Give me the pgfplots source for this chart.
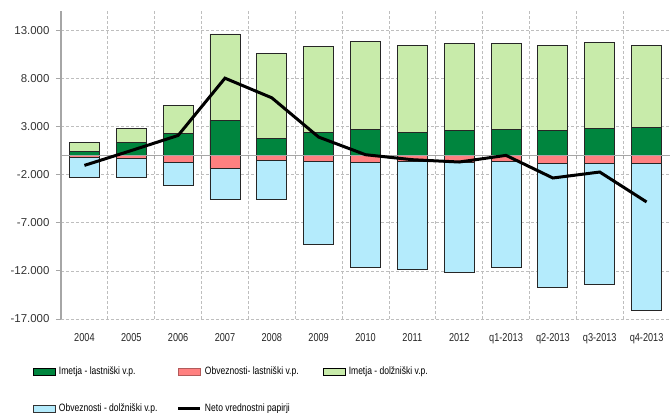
\documentclass[border=0pt]{standalone}
\usepackage{pgfplots}
\pgfplotsset{compat=1.18}
\usepackage{pgfplotstable}
\usepackage{fontspec}
\setmainfont{Liberation Sans}
\newfontfamily\narrowfont{Liberation Sans}[FakeStretch=0.8]
\definecolor{dg}{RGB}{0,133,62}
\definecolor{rd}{RGB}{255,128,128}
\definecolor{lg}{RGB}{200,235,170}
\definecolor{lb}{RGB}{180,235,252}
\definecolor{gridc}{RGB}{190,190,190}
\definecolor{axc}{RGB}{166,166,166}
\pgfplotstableread{
x dg r lg b net
0 450 -170 870 -2140 -1040
1 1320 -310 1450 -2000 500
2 2250 -690 2930 -2420 2070
3 3630 -1380 8990 -3180 8020
4 1800 -550 8820 -4010 5980
5 2350 -590 8950 -8670 1900
6 2700 -690 9160 -10990 70
7 2350 -620 9050 -11200 -450
8 2590 -760 9050 -11450 -690
9 2700 -620 8950 -11060 0
10 2590 -830 8820 -12860 -2350
11 2770 -830 8980 -12550 -1730
12 2870 -830 8540 -15240 -4840
}\data
\begin{document}
\begin{tikzpicture}
\begin{axis}[
  name=ax,
  width=609bp, height=308bp, scale only axis,
  xmin=-0.5, xmax=12.5, ymin=-17000, ymax=15000,
  scaled y ticks=false,
  axis y line*=left, axis x line*=bottom,
  x axis line style={draw=none},
  y axis line style={draw=axc, line width=1.6bp},
  ytick={-17000,-12000,-7000,-2000,3000,8000,13000},
  yticklabels={-17.000,-12.000,-7.000,-2.000,3.000,8.000,13.000},
  xtick={0,...,12},
  xticklabels={2004,2005,2006,2007,2008,2009,2010,2011,2012,q1-2013,q2-2013,q3-2013,q4-2013},
  minor xtick={0.5,1.5,...,11.5},
  ymajorgrids=true, xminorgrids=true, xmajorgrids=false,
  major grid style={draw=gridc, dash pattern=on 3bp off 2bp, line width=0.75bp},
  minor grid style={draw=gridc, dash pattern=on 3bp off 2bp, line width=0.75bp},
  xtick style={draw=none}, minor tick length=0pt,
  ytick style={draw=axc, line width=1bp}, tick align=outside, major tick length=5bp,
  /pgf/number format/assume math mode=true,
  yticklabel style={font=\fontsize{11.5}{13}\selectfont, text=black!80, xshift=-3bp},
  xticklabel style={font=\narrowfont\fontsize{11.5}{13}\selectfont, text=black!85, yshift=-6bp},
  legend style={
    at={(axis description cs:-0.046,-0.155)}, anchor=north west,
    draw=none, fill=none, inner sep=0pt,
    legend columns=3,
    font=\narrowfont\fontsize{10.7}{12}\selectfont,
    /tikz/every odd column/.append style={column sep=3bp},
    row sep=28bp,
    nodes={inner sep=0pt},
  },
  legend cell align=left,
]
\addplot[ybar, bar width=30bp, bar shift=0pt, fill=lg, draw=black!85, line width=0.8bp, forget plot] table[x=x, y expr=\thisrow{dg}+\thisrow{lg}] {\data};
\addplot[ybar, bar width=30bp, bar shift=0pt, fill=dg, draw=black!85, line width=0.8bp, forget plot] table[x=x, y=dg] {\data};
\addplot[ybar, bar width=30bp, bar shift=0pt, fill=lb, draw=black!85, line width=0.8bp, forget plot] table[x=x, y expr=\thisrow{r}+\thisrow{b}] {\data};
\addplot[ybar, bar width=30bp, bar shift=0pt, fill=rd, draw=black!85, line width=0.8bp, forget plot] table[x=x, y=r] {\data};
\addlegendimage{legend image code/.code={\draw[fill=dg, draw=black, line width=0.8bp] (0bp,-3.5bp) rectangle (22bp,3.5bp);}}
\addlegendentry{\makebox[118bp][l]{Imetja - lastniški v.p.}}
\addlegendimage{legend image code/.code={\draw[fill=rd, draw=rd!70!black, line width=0.8bp] (0bp,-3.5bp) rectangle (22bp,3.5bp);}}
\addlegendentry{\makebox[118bp][l]{Obveznosti- lastniški v.p.}}
\addlegendimage{legend image code/.code={\draw[fill=lg, draw=black, line width=0.8bp] (0bp,-3.5bp) rectangle (22bp,3.5bp);}}
\addlegendentry{\makebox[118bp][l]{Imetja - dolžniški v.p.}}
\addlegendimage{legend image code/.code={\draw[fill=lb, draw=black!80, line width=0.8bp] (0bp,-3.5bp) rectangle (22bp,3.5bp);}}
\addlegendentry{\makebox[118bp][l]{Obveznosti - dolžniški v.p.}}
\addlegendimage{legend image code/.code={\draw[black, line width=3bp] (0bp,0bp) -- (22bp,0bp);}}
\addlegendentry{\makebox[118bp][l]{Neto vrednostni papirji}}
\end{axis}
\begin{axis}[
  width=609bp, height=308bp, scale only axis,
  xmin=-0.5, xmax=12.5, ymin=-17000, ymax=15000,
  axis x line*=middle, axis y line=none,
  xtick={0.5,1.5,...,11.5}, xticklabels={}, ytick=\empty,
  x axis line style={draw=axc, line width=1.6bp},
  xtick style={draw=axc, line width=1bp}, tick align=outside, major tick length=4bp,
]
\addplot[black, line width=3bp, sharp plot, mark=none] table[x=x, y=net] {\data};
\end{axis}
\pgfresetboundingbox
\path ([shift={(-61bp,-94bp)}]ax.south west) rectangle ([shift={(0bp,11bp)}]ax.north east);
\end{tikzpicture}
\end{document}
